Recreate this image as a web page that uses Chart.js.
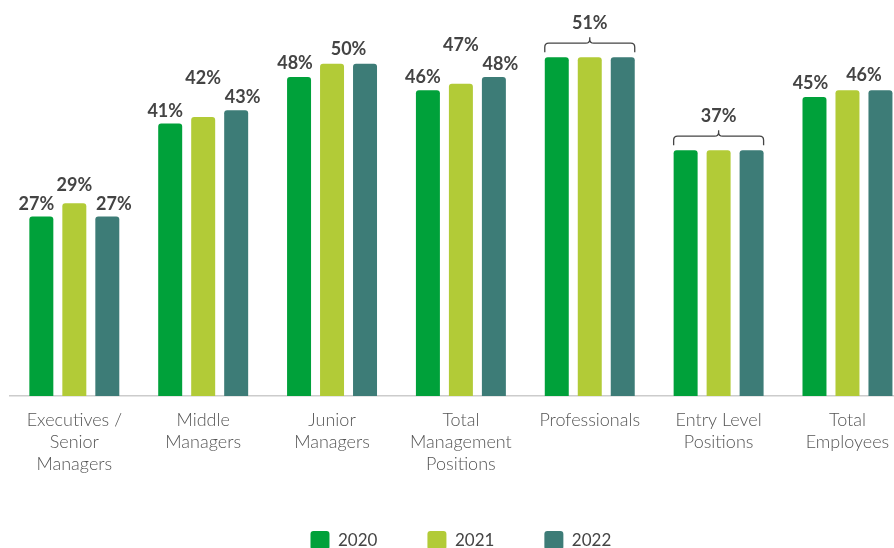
<!DOCTYPE html>
<html>
<head>
<meta charset="utf-8">
<script src="https://cdn.jsdelivr.net/npm/chart.js@4.4.1/dist/chart.umd.min.js"></script>
<style>
  html, body { margin: 0; padding: 0; background: #fff; overflow: hidden; }
  #wrap { position: relative; width: 914px; height: 560px; }
</style>
</head>
<body>
<div id="wrap"><canvas id="chart"></canvas></div>
<script>
// Workforce share by level, 2020–2022

const categories = [
  ['Executives /', 'Senior', 'Managers'],
  ['Middle', 'Managers'],
  ['Junior', 'Managers'],
  ['Total', 'Management', 'Positions'],
  'Professionals',
  ['Entry Level', 'Positions'],
  ['Total', 'Employees'],
];
const years = ['2020', '2021', '2022'];
const values2020 = [27, 41, 48, 46, 51, 37, 45];
const values2021 = [29, 42, 50, 47, 51, 37, 46];
const values2022 = [27, 43, 50, 48, 51, 37, 46];
// how the value labels are shown per category
const labelModes = ['each', 'each', 'pair', 'each', 'bracket', 'bracket', 'pair'];

const COLORS = ['#00a13a', '#b2cb37', '#3d7c77'];
const LABEL_COLOR = '#444444';
const FONT = 'Lato, "Open Sans", sans-serif';

// ── Value labels / brackets ───────────────────────────────────────────────────

const valueLabels = {
  id: 'valueLabels',
  afterDatasetsDraw(chart) {
    const ctx = chart.ctx;
    const metas = [0, 1, 2].map(i => chart.getDatasetMeta(i));
    const vals = chart.data.datasets.map(ds => ds.data);

    ctx.save();
    ctx.fillStyle = LABEL_COLOR;
    ctx.strokeStyle = LABEL_COLOR;
    ctx.font = 'bold 18px ' + FONT;
    ctx.textAlign = 'center';
    ctx.textBaseline = 'alphabetic';

    const txt = v => v + '%';
    const GAP = 7;

    labelModes.forEach((mode, i) => {
      const bars = metas.map(m => m.data[i]);
      if (mode === 'each') {
        // outer labels pushed sideways, middle one lifted clear of them
        const yl = bars[0].y - GAP, yr = bars[2].y - GAP;
        const ym = Math.min(bars[1].y - GAP, Math.min(yl, yr) - 19);
        ctx.fillText(txt(vals[0][i]), bars[0].x - 5, yl);
        ctx.fillText(txt(vals[1][i]), bars[1].x, ym);
        ctx.fillText(txt(vals[2][i]), bars[2].x + 6.5, yr);
      } else if (mode === 'pair') {
        ctx.fillText(txt(vals[0][i]), bars[0].x - 4, bars[0].y - GAP - 1);
        const top = Math.min(bars[1].y, bars[2].y);
        ctx.fillText(txt(vals[1][i]), (bars[1].x + bars[2].x) / 2, top - GAP - 2);
      } else {
        const top = Math.min(...bars.map(b => b.y));
        const x0 = bars[0].x - bars[0].width / 2;
        const x1 = bars[2].x + bars[2].width / 2;
        const xm = (x0 + x1) / 2;
        const yEnd = top - 5, yLine = top - 14, yPeak = top - 20;
        const r = 4;
        ctx.lineWidth = 1.3;
        ctx.beginPath();
        ctx.moveTo(x0, yEnd);
        ctx.lineTo(x0, yLine + r);
        ctx.quadraticCurveTo(x0, yLine, x0 + r, yLine);
        ctx.lineTo(xm - r, yLine);
        ctx.quadraticCurveTo(xm, yLine, xm, yLine - r);
        ctx.lineTo(xm, yPeak);
        ctx.moveTo(xm, yLine - r);
        ctx.quadraticCurveTo(xm, yLine, xm + r, yLine);
        ctx.lineTo(x1 - r, yLine);
        ctx.quadraticCurveTo(x1, yLine, x1, yLine + r);
        ctx.lineTo(x1, yEnd);
        ctx.stroke();
        ctx.fillText(txt(vals[0][i]), xm, yPeak - 8);
      }
    });
    ctx.restore();
  }
};

// ── Chart ─────────────────────────────────────────────────────────────────────

const seriesValues = [values2020, values2021, values2022];

new Chart(document.getElementById('chart'), {
  type: 'bar',
  data: {
    labels: categories,
    datasets: years.map((y, i) => ({
      label: y,
      data: seriesValues[i],
      backgroundColor: COLORS[i],
      borderRadius: 3,
      borderSkipped: 'bottom',
      categoryPercentage: 0.768,
      barPercentage: 0.727,
    })),
  },
  options: {
    responsive: true,
    maintainAspectRatio: false,
    animation: false,
    layout: { padding: { left: 9.9, right: 2.1, top: 4, bottom: 0 } },
    plugins: {
      tooltip: { enabled: false },
      legend: {
        position: 'bottom',
        align: 'center',
        labels: {
          boxWidth: 19,
          boxHeight: 19,
          useBorderRadius: true,
          borderRadius: 3,
          padding: 50,
          color: '#444',
          font: { family: FONT, size: 17 },
        },
      },
    },
    scales: {
      x: {
        grid: { display: false, drawTicks: false },
        border: { display: true, color: '#cccccc', width: 1.5 },
        ticks: {
          autoSkip: false,
          maxRotation: 0,
          padding: 13,
          color: '#555',
          font: { family: FONT, size: 18, weight: '300', lineHeight: '22px' },
        },
        afterFit: scale => { scale.height -= 7; },
      },
      y: {
        display: false,
        min: 0,
        max: 59,
      },
    },
  },
  plugins: [valueLabels],
});
</script>
</body>
</html>
